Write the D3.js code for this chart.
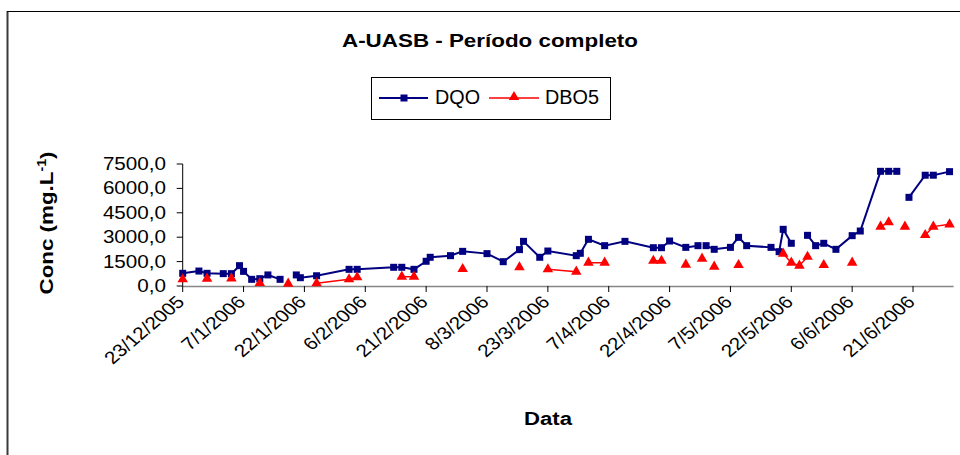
<!DOCTYPE html>
<html>
<head>
<meta charset="utf-8">
<script src="https://cdn.jsdelivr.net/npm/d3@7"></script>
<style>
  body { margin: 0; background: #fff; }
  svg text { font-family: "Liberation Sans", Arial, sans-serif; fill: #000; }
</style>
</head>
<body>
<div id="chart"></div>
<script>
const WIDTH = 960;
const HEIGHT = 455;

// sampling dates (dd/mm/yyyy), one row per date as in the spreadsheet
const dates = [
    "23/12/2005", "27/12/2005", "29/12/2005", "2/1/2006", "4/1/2006", "6/1/2006", "7/1/2006",
    "9/1/2006", "11/1/2006", "13/1/2006", "16/1/2006", "18/1/2006", "20/1/2006", "21/1/2006",
    "25/1/2006", "2/2/2006", "4/2/2006", "13/2/2006", "15/2/2006", "18/2/2006", "21/2/2006",
    "22/2/2006", "27/2/2006", "2/3/2006", "8/3/2006", "12/3/2006", "16/3/2006", "17/3/2006",
    "21/3/2006", "23/3/2006", "30/3/2006", "31/3/2006", "2/4/2006", "6/4/2006", "11/4/2006",
    "18/4/2006", "20/4/2006", "22/4/2006", "26/4/2006", "29/4/2006", "30/4/2006", "1/5/2006",
    "3/5/2006", "7/5/2006", "9/5/2006", "11/5/2006", "17/5/2006", "19/5/2006", "20/5/2006",
    "22/5/2006", "24/5/2006", "26/5/2006", "28/5/2006", "30/5/2006", "2/6/2006", "6/6/2006",
    "8/6/2006", "13/6/2006", "15/6/2006", "17/6/2006", "19/6/2006", "20/6/2006", "24/6/2006",
    "26/6/2006", "30/6/2006"
];

// DQO (mg/L), null = no sample that day
const dqo = [
    780, 920, 780, 760, 760, 1250, 900,
    410, 450, 680, 410, null, 680, 510,
    630, 1025, 1025, 1150, 1150, 1025, 1520,
    1765, 1865, 2130, 1990, 1495, 2235, 2745,
    1765, 2150, 1865, 2010, 2870, 2480, 2745,
    2355, 2355, 2765, 2375, 2480, null, 2480,
    2255, 2375, 2990, 2480, 2375, 2110, 3485,
    2625, null, 3115, 2480, 2625, 2255, 3095,
    3380, 7050, 7050, 7050, null, 5450, 6810,
    6810, 7030
];

// DBO5 (mg/L)
const dbo5 = [
    410, null, 450, null, 470, null, null,
    null, 185, null, null, 145, null, null,
    165, 410, 535, null, 575, 575, null,
    null, null, 1045, null, null, 1150, null,
    null, 1025, 880, null, 1435, 1435, null,
    1555, 1555, null, 1310, null, 1680, null,
    1190, null, 1290, null, null, null, 1990,
    1435, 1250, 1800, null, 1290, null, 1435,
    null, 3650, 3915, null, 3650, null, 3135,
    3650, 3790
];

const xTickLabels = [
    "23/12/2005", "7/1/2006", "22/1/2006", "6/2/2006", "21/2/2006", "8/3/2006", "23/3/2006",
    "7/4/2006", "22/4/2006", "7/5/2006", "22/5/2006", "6/6/2006", "21/6/2006"
];
const xEnd = "1/7/2006";
const yTicks = [0, 1500, 3000, 4500, 6000, 7500];

const parseDate = d3.utcParse("%d/%m/%Y");
const fmt = v => d3.format(".1f")(v).replace(".", ",");

const rows = dates.map((d, i) => ({ date: parseDate(d), dqo: dqo[i], dbo5: dbo5[i] }));

const svg = d3.select("#chart")
    .append("svg")
    .attr("width", WIDTH)
    .attr("height", HEIGHT);

// outer chart frame (runs off the right and bottom of the picture)
svg.append("line")
    .attr("x1", 7.5).attr("x2", 7.5).attr("y1", 11).attr("y2", HEIGHT)
    .attr("stroke", "#3a3a3a").attr("stroke-width", 2);
svg.append("line")
    .attr("x1", 7).attr("x2", WIDTH).attr("y1", 11.5).attr("y2", 11.5)
    .attr("stroke", "#000").attr("stroke-width", 1);

const x = d3.scaleUtc()
    .domain([parseDate(xTickLabels[0]), parseDate(xEnd)])
    .range([182.7, 953.6]);

const y = d3.scaleLinear()
    .domain([0, 7500])
    .range([286, 164]);

// title
svg.append("text")
    .attr("x", 490).attr("y", 47)
    .attr("text-anchor", "middle")
    .style("font-size", "18px").style("font-weight", "bold")
    .attr("textLength", 296).attr("lengthAdjust", "spacingAndGlyphs")
    .text("A-UASB - Período completo");

// y axis
const yAxis = svg.append("g").attr("transform", "translate(182.7,0)");
yAxis.append("line")
    .attr("y1", y(7500)).attr("y2", y(0))
    .attr("stroke", "#000").attr("stroke-width", 1);
yTicks.forEach(t => {
    yAxis.append("line")
        .attr("x1", -6).attr("x2", 0)
        .attr("y1", y(t)).attr("y2", y(t))
        .attr("stroke", "#000");
    svg.append("text")
        .attr("transform", `translate(166,${y(t) + 6}) scale(1.18,1)`)
        .attr("text-anchor", "end")
        .style("font-size", "17.5px")
        .text(fmt(t));
});

// x axis
svg.append("line")
    .attr("x1", x.range()[0]).attr("x2", x.range()[1])
    .attr("y1", 286.5).attr("y2", 286.5)
    .attr("stroke", "#868686").attr("stroke-width", 1.6);
xTickLabels.forEach(lbl => {
    const tx = x(parseDate(lbl));
    svg.append("line")
        .attr("x1", tx).attr("x2", tx)
        .attr("y1", 286).attr("y2", 292)
        .attr("stroke", "#000");
    svg.append("text")
        .attr("transform", `translate(${tx + 3},${303}) scale(1.18,1) rotate(-45)`)
        .attr("text-anchor", "end")
        .style("font-size", "17.5px")
        .text(lbl);
});

// axis titles
svg.append("text")
    .attr("x", 548).attr("y", 425)
    .attr("text-anchor", "middle")
    .style("font-size", "18px").style("font-weight", "bold")
    .attr("textLength", 48).attr("lengthAdjust", "spacingAndGlyphs")
    .text("Data");

const yTitle = svg.append("text")
    .attr("transform", "translate(53,223) rotate(-90)")
    .attr("text-anchor", "middle")
    .style("font-size", "19px").style("font-weight", "bold")
    .attr("textLength", 143).attr("lengthAdjust", "spacingAndGlyphs");
yTitle.append("tspan").text("Conc (mg.L");
yTitle.append("tspan").attr("baseline-shift", "super").style("font-size", "12px").text("-1");
yTitle.append("tspan").text(")");

// series
const BLUE = "#000080";
const RED = "#ff0000";
const triangle = d3.symbol().type(d3.symbolTriangle).size(48);

const lineFor = key => d3.line()
    .defined(d => d[key] !== null)
    .x(d => x(d.date))
    .y(d => y(d[key]));

svg.append("path")
    .datum(rows)
    .attr("fill", "none")
    .attr("stroke", RED)
    .attr("stroke-width", 1.5)
    .attr("d", lineFor("dbo5"));

svg.append("path")
    .datum(rows)
    .attr("fill", "none")
    .attr("stroke", BLUE)
    .attr("stroke-width", 2)
    .attr("d", lineFor("dqo"));

svg.selectAll(".m-dqo")
    .data(rows.filter(d => d.dqo !== null))
    .enter()
    .append("rect")
    .attr("class", "m-dqo")
    .attr("x", d => x(d.date) - 3.5)
    .attr("y", d => y(d.dqo) - 3.5)
    .attr("width", 7).attr("height", 7)
    .attr("fill", BLUE);

svg.selectAll(".m-dbo")
    .data(rows.filter(d => d.dbo5 !== null))
    .enter()
    .append("path")
    .attr("class", "m-dbo")
    .attr("transform", d => `translate(${x(d.date)},${y(d.dbo5)})`)
    .attr("d", triangle)
    .attr("fill", RED);

// legend
const legend = svg.append("g");
legend.append("rect")
    .attr("x", 371.5).attr("y", 77.5)
    .attr("width", 239).attr("height", 42)
    .attr("fill", "#fff").attr("stroke", "#000");
legend.append("line")
    .attr("x1", 379).attr("x2", 428).attr("y1", 98).attr("y2", 98)
    .attr("stroke", BLUE).attr("stroke-width", 2);
legend.append("rect")
    .attr("x", 400.5).attr("y", 94.5).attr("width", 7).attr("height", 7)
    .attr("fill", BLUE);
legend.append("text")
    .attr("x", 435).attr("y", 104)
    .style("font-size", "20.5px")
    .attr("textLength", 45).attr("lengthAdjust", "spacingAndGlyphs")
    .text("DQO");
legend.append("line")
    .attr("x1", 489).attr("x2", 539).attr("y1", 98).attr("y2", 98)
    .attr("stroke", RED).attr("stroke-width", 1.5);
legend.append("path")
    .attr("transform", "translate(514,97)")
    .attr("d", triangle)
    .attr("fill", RED);
legend.append("text")
    .attr("x", 545).attr("y", 104)
    .style("font-size", "20.5px")
    .attr("textLength", 54).attr("lengthAdjust", "spacingAndGlyphs")
    .text("DBO5");
</script>
</body>
</html>
